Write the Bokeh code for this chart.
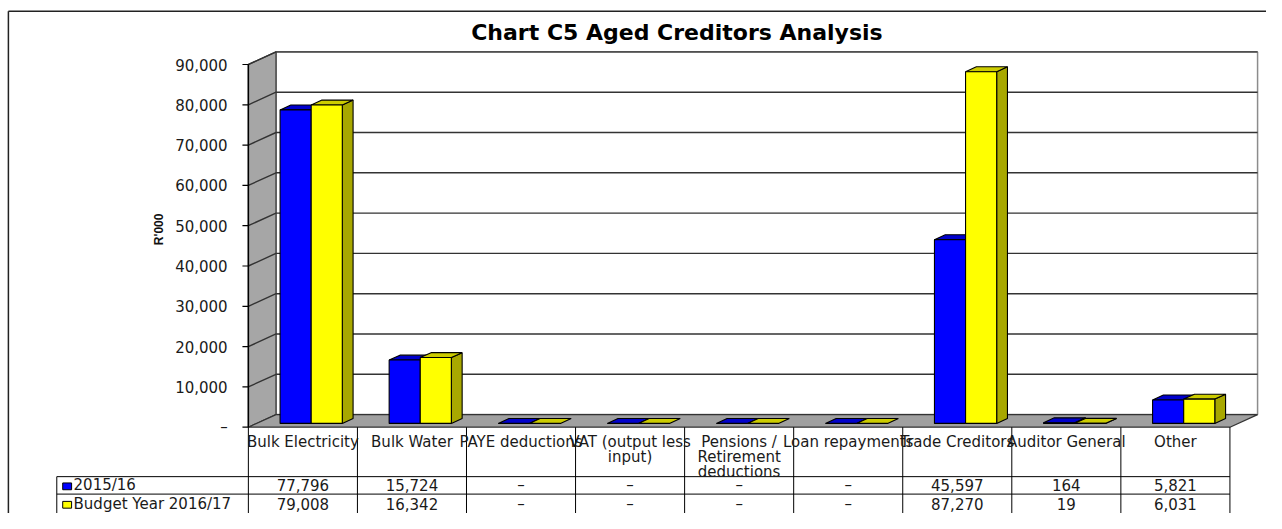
import math
from bokeh.plotting import figure
from bokeh.models import Range1d
from bokeh.core.properties import value
from bokeh.embed import file_html
from bokeh.resources import INLINE

# ---------------- data ----------------
categories = ["Bulk Electricity", "Bulk Water", "PAYE deductions",
              "VAT (output less input)", "Pensions / Retirement deductions",
              "Loan repayments", "Trade Creditors", "Auditor General", "Other"]
category_labels = ["Bulk Electricity", "Bulk Water", "PAYE deductions",
                   "VAT (output less\ninput)", "Pensions /\nRetirement\ndeductions",
                   "Loan repayments", "Trade Creditors", "Auditor General", "Other"]
series_names = ["2015/16", "Budget Year 2016/17"]
values_2015 = [77796, 15724, 0, 0, 0, 0, 45597, 164, 5821]
values_2016 = [79008, 16342, 0, 0, 0, 0, 87270, 19, 6031]
y_ticks = [0, 10000, 20000, 30000, 40000, 50000, 60000, 70000, 80000, 90000]
y_tick_labels = ["–" if t == 0 else f"{t:,}" for t in y_ticks]
title_text = "Chart C5 Aged Creditors Analysis"
y_title = "R'000"

# ---------------- geometry helpers (layout positions in reference pixels) ----------------
W, H = 1266, 513            # figure size (fits the window with its 8px margin)
REF_W, REF_H = 1282, 529    # layout is designed on this canvas and scaled to the figure
X0, UX = 251.0, 110.44      # x of category origin, px per category
Y0, UY = 440.0, 374.0 / 90000   # y of value zero, px per value unit


def fx(px):
    return (px - X0) / UX


def fy(py):
    return (Y0 - py) / UY


DX, DY = 28 / UX, 13 / UY       # 3-D depth offset
n = len(categories)
top = y_ticks[-1]
FONT = value("DejaVu Sans")
TXT = "#1a1a1a"

p = figure(width=W, height=H, x_range=Range1d(fx(0), fx(REF_W)),
           y_range=Range1d(fy(REF_H), fy(0)),
           x_axis_type=None, y_axis_type=None, toolbar_location=None,
           output_backend="svg", min_border=0, outline_line_color=None,
           background_fill_color="white", border_fill_color="white")
p.grid.visible = False

# ---------------- walls and floor ----------------
p.patch([DX, n + DX, n + DX, DX], [DY, DY, top + DY, top + DY],
        fill_color="white", line_color="#8c8c8c", line_width=1.5)
p.patch([0, DX, DX, 0], [0, DY, top + DY, top], fill_color="#a6a6a6",
        line_color="#333333", line_width=1.2)
p.patch([0, n, n + DX, DX], [0, 0, DY, DY], fill_color="#a0a0a0",
        line_color="#333333", line_width=1.2)

grid_xs = [[0, DX, n + DX] for t in y_ticks[1:]]
grid_ys = [[t, t + DY, t + DY] for t in y_ticks[1:]]
p.multi_line(grid_xs, grid_ys, line_color="#333333", line_width=1.4)

# axis line, ticks, labels
p.segment(x0=[0], y0=[0], x1=[0], y1=[top], line_color="black", line_width=1.5)
p.segment(x0=[-6 / UX] * len(y_ticks), y0=y_ticks, x1=[0] * len(y_ticks), y1=y_ticks,
          line_color="black", line_width=1.2)
p.text(x=[-21 / UX] * len(y_ticks), y=y_ticks, text=y_tick_labels,
       text_align="right", text_baseline="middle", text_font=FONT,
       text_font_size="15px", text_color=TXT)
p.text(x=[fx(160)], y=[fy(236)], text=[y_title], angle=math.pi / 2,
       text_align="center", text_baseline="middle", text_font=value("Liberation Sans"),
       text_font_size="12px", text_font_style="bold", text_color="#111111")

# ---------------- 3-D bars ----------------
bar_w = 31.5 / UX
f0, fd = 0.3, 0.39
ddx, ddy = fd * DX, fd * DY
base = f0 * DY
styles = [("#0000FF", "#0000CC", "#000099"), ("#FFFF00", "#CCCC00", "#A8A800")]
for s, vals in enumerate([values_2015, values_2016]):
    front_c, top_c, side_c = styles[s]
    fxs, fys, txs, tys, sxs, sys_ = [], [], [], [], [], []
    for i, v in enumerate(vals):
        x0 = i + 0.5 - bar_w + f0 * DX + s * bar_w
        x1 = x0 + bar_w
        yt = base + v
        txs.append([x0, x1, x1 + ddx, x0 + ddx])
        tys.append([yt, yt, yt + ddy, yt + ddy])
        if v > 0:
            fxs.append([x0, x1, x1, x0])
            fys.append([base, base, yt, yt])
            sxs.append([x1, x1 + ddx, x1 + ddx, x1])
            sys_.append([base, base + ddy, yt + ddy, yt])
    p.patches(sxs, sys_, fill_color=side_c, line_color="black", line_width=1.1)
    p.patches(txs, tys, fill_color=top_c, line_color="black", line_width=1.1)
    p.patches(fxs, fys, fill_color=front_c, line_color="black", line_width=1.1)

# ---------------- data table ----------------
row1_top, row2_top = fy(491), fy(509)
row1_mid, row2_mid = fy(500), fy(519)
bottom = fy(REF_H)
leg_left = fx(57)
p.segment(x0=list(range(n + 1)), y0=[0] * (n + 1), x1=list(range(n + 1)),
          y1=[bottom] * (n + 1), line_color="black", line_width=1)
p.segment(x0=[leg_left, leg_left], y0=[row1_top, row2_top], x1=[n, n],
          y1=[row1_top, row2_top], line_color="black", line_width=1)
p.segment(x0=[leg_left], y0=[row1_top], x1=[leg_left], y1=[bottom],
          line_color="black", line_width=1)

p.text(x=[i + 0.5 for i in range(n)], y=[fy(446)] * n, text=category_labels,
       text_align="center", text_baseline="top", text_line_height=0.83,
       text_font=FONT, text_font_size="15px", text_color=TXT)


def fmt(v):
    return "–" if v == 0 else f"{v:,}"


for mid, vals in [(row1_mid, values_2015), (row2_mid, values_2016)]:
    p.text(x=[i + 0.5 for i in range(n)], y=[mid] * n, text=[fmt(v) for v in vals],
           text_align="center", text_baseline="middle", text_font=FONT,
           text_font_size="15px", text_color=TXT)

# legend keys
key_h = 3.5 / UY
p.quad(left=[fx(63)] * 2, right=[fx(72)] * 2,
       bottom=[row1_mid - key_h - 1 / UY, row2_mid - key_h - 1 / UY],
       top=[row1_mid + key_h - 1 / UY, row2_mid + key_h - 1 / UY],
       fill_color=["#0000FF", "#FFFF00"], line_color="black", line_width=1)
p.text(x=[fx(74)] * 2, y=[row1_mid, row2_mid], text=series_names,
       text_align="left", text_baseline="middle", text_font=FONT,
       text_font_size="15px", text_color=TXT)

# ---------------- title and chart border ----------------
p.text(x=[fx(685)], y=[fy(33)], text=[title_text], text_align="center",
       text_baseline="middle", text_font=FONT, text_font_size="22px",
       text_font_style="bold", text_color="black")
p.multi_line([[fx(8), fx(REF_W)], [fx(8), fx(8)]], [[fy(11), fy(11)], [fy(11), fy(REF_H)]],
             line_color="#222222", line_width=1.5)

open("out.html", "w").write(file_html(p, INLINE))
